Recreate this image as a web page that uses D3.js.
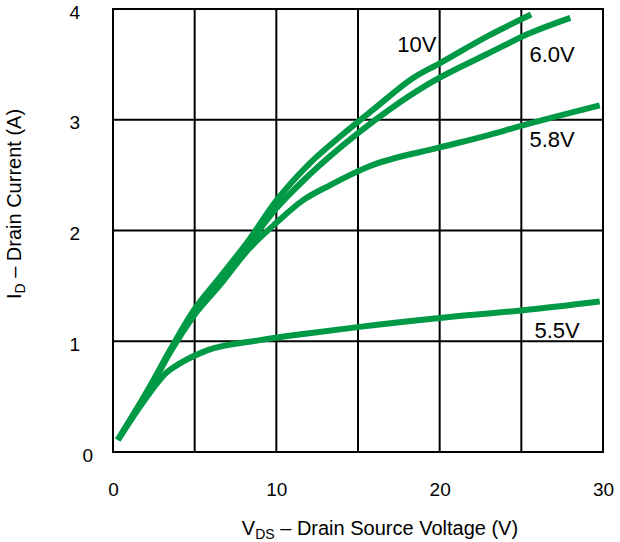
<!DOCTYPE html>
<html>
<head>
    <title></title>
    <style>
        body { margin: 0; background: #fff; }
        text { font-family: "Liberation Sans", Arial, sans-serif; fill: #000; }
    </style>
</head>
<body>
<div id="container"></div>

<script src="https://d3js.org/d3.v7.min.js" type="text/javascript"></script>
<script type="text/javascript">
    // Gate voltage curves: [VDS (V), ID (A)]
    const curve10V = [[0.3,0.11],[2.3,0.6],[3.5,0.92],[4.9,1.27],[6.5,1.57],[8.3,1.91],[10,2.27],[12,2.6],[14,2.86],[16,3.1],[18.4,3.38],[20,3.51],[23,3.76],[25.6,3.95]];
    const curve60V = [[0.3,0.11],[2.3,0.6],[3.5,0.92],[4.9,1.26],[6.5,1.55],[8.3,1.88],[10,2.2],[12,2.5],[15,2.88],[17,3.1],[19.4,3.33],[23,3.6],[25.5,3.78],[28,3.92]];
    const curve58V = [[0.3,0.11],[2.3,0.58],[3.5,0.9],[4.9,1.22],[6.5,1.5],[8.3,1.83],[10,2.07],[11.6,2.27],[13.3,2.41],[15.7,2.58],[20,2.75],[22.7,2.85],[25.1,2.95],[29.8,3.13]];
    const curve55V = [[0.3,0.11],[1.8,0.44],[3.3,0.72],[4.1,0.8],[5.8,0.92],[9,1.01],[11.9,1.07],[15.1,1.13],[20,1.21],[25.1,1.28],[29.8,1.36]];

    const curves = [curve10V, curve60V, curve58V, curve55V];
    const curveNames = ['10V', '6.0V', '5.8V', '5.5V'];
    // where each name sits, in data units
    const labelAt = [[17.4, 3.61], [25.5, 3.52], [25.5, 2.75], [25.8, 1.03]];

    const xTicks = [0, 10, 20, 30];
    const xGrid = [0, 5, 10, 15, 20, 25, 30];
    const yTicks = [0, 1, 2, 3, 4];

    let w = 620;
    let h = 542;
    const margin = { top: 9, left: 113, right: 17, bottom: 90 };

    const svg = d3.select('#container')
        .append('svg')
        .attr('width', w)
        .attr('height', h);

    let x = d3.scaleLinear().domain([0, 30]).range([margin.left, w - margin.right]);
    let y = d3.scaleLinear().domain([0, 4]).range([h - margin.bottom, margin.top]);

    const grid = svg.append('g');
    grid.selectAll('.vg').data(xGrid).enter().append('line')
        .attr('x1', d => x(d)).attr('x2', d => x(d))
        .attr('y1', y(0)).attr('y2', y(4))
        .style('stroke', '#000').style('stroke-width', 2);
    grid.selectAll('.hg').data(yTicks).enter().append('line')
        .attr('x1', x(0) - 1).attr('x2', x(30) + 1)
        .attr('y1', d => y(d)).attr('y2', d => y(d))
        .style('stroke', '#000').style('stroke-width', 2);

    // tick labels via axes, with the lines hidden
    let xAxis = d3.axisBottom(x).tickValues(xTicks).tickFormat(d3.format('d')).tickSize(0).tickPadding(0);
    let gx = svg.append('g')
        .attr('transform', `translate(0, ${y(0) + 44})`)
        .call(xAxis);
    gx.select('.domain').remove();
    gx.selectAll('text').style('font-size', '19px').attr('dy', 0)
        .style('font-family', '"Liberation Sans", Arial, sans-serif');

    let yAxis = d3.axisLeft(y).tickValues(yTicks).tickFormat(d3.format('d')).tickSize(0).tickPadding(0);
    let gy = svg.append('g')
        .attr('transform', `translate(80, 3)`)
        .call(yAxis);
    gy.select('.domain').remove();
    gy.selectAll('text').style('font-size', '19px')
        .style('font-family', '"Liberation Sans", Arial, sans-serif');
    gy.selectAll('.tick').filter(d => d === 0).select('text').attr('x', 13);

    const line = d3.line().x(d => x(d[0])).y(d => y(d[1])).curve(d3.curveMonotoneX);

    svg.append('g').selectAll('path').data(curves).enter().append('path')
        .attr('d', line)
        .style('fill', 'none')
        .style('stroke', '#009a46')
        .style('stroke-width', 6)
        .style('stroke-linejoin', 'round');

    svg.append('g').selectAll('text').data(labelAt).enter().append('text')
        .attr('x', d => x(d[0]))
        .attr('y', d => y(d[1]))
        .style('font-size', '22px')
        .text((d, i) => curveNames[i]);

    // axis titles
    let xt = svg.append('text')
        .attr('x', 380).attr('y', 535)
        .attr('text-anchor', 'middle')
        .style('font-size', '20px');
    xt.append('tspan').text('V');
    xt.append('tspan').attr('dy', 4).style('font-size', '14px').text('DS');
    xt.append('tspan').attr('dy', -4).text(' – Drain Source Voltage (V)');

    let yt = svg.append('text')
        .attr('transform', 'translate(21, 204) rotate(-90)')
        .attr('text-anchor', 'middle')
        .style('font-size', '20px');
    yt.append('tspan').text('I');
    yt.append('tspan').attr('dy', 4).style('font-size', '14px').text('D');
    yt.append('tspan').attr('dy', -4).text(' – Drain Current (A)');
</script>

</body>
</html>
